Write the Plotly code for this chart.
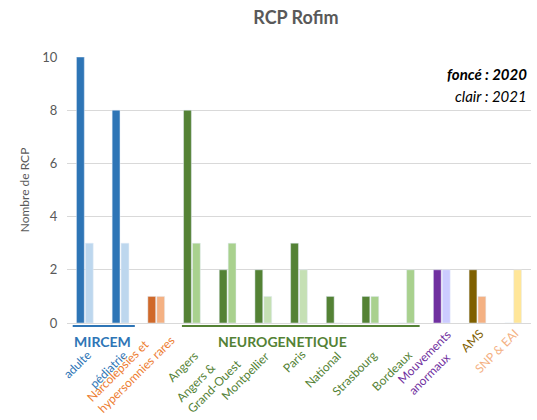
import plotly.graph_objects as go

categories = ["adulte", "pédiatrie", "Narcolepsies et<br>hypersomnies rares", "Angers",
              "Angers &<br>Grand-Ouest", "Montpellier", "Paris", "National", "Strasbourg",
              "Bordeaux", "Mouvements<br>anormaux", "AMS", "SNP & EAI"]
groups = ["MIRCEM", "MIRCEM", None, "NEUROGENETIQUE", "NEUROGENETIQUE", "NEUROGENETIQUE",
          "NEUROGENETIQUE", "NEUROGENETIQUE", "NEUROGENETIQUE", "NEUROGENETIQUE", None, None, None]
values_2020 = [10, 8, 1, 8, 2, 2, 3, 1, 1, 0, 2, 2, 0]
values_2021 = [3, 3, 1, 3, 3, 1, 2, 0, 1, 2, 2, 1, 2]
dark_colors = ["#2E75B6", "#2E75B6", "#D0692A", "#548235", "#548235", "#548235", "#548235",
               "#548235", "#548235", "#548235", "#7030A0", "#7F6000", "#FFD966"]
light_colors = ["#BDD7EE", "#BDD7EE", "#F4B183", "#A9D18E", "#A9D18E", "#C5E0B4", "#C5E0B4",
                "#A9D18E", "#A9D18E", "#A9D18E", "#CCCCFF", "#F4B183", "#FFE699"]
label_colors = ["#2E75B6", "#2E75B6", "#ED7D31", "#548235", "#548235", "#548235", "#548235",
                "#548235", "#548235", "#548235", "#7030A0", "#7F6000", "#F4B183"]

# layout tweaks (pixel shifts) for the rotated multi-line labels
multi_shift = {2: (25, 4), 4: (20, -19), 10: (26, -1)}

x = list(range(len(categories)))

fig = go.Figure()
fig.add_trace(go.Bar(x=x, y=values_2020, marker_color=dark_colors, name="2020"))
fig.add_trace(go.Bar(x=x, y=values_2021, marker_color=light_colors, name="2021"))

fig.update_layout(
    width=537, height=420,
    margin=dict(l=67, r=6, t=57, b=97, autoexpand=False),
    barmode="group", bargap=0.5, bargroupgap=0.12,
    showlegend=False,
    plot_bgcolor="white", paper_bgcolor="white",
    font=dict(family="Lato, Open Sans, sans-serif", color="#595959"),
    title=dict(text="<b>RCP Rofim</b>", x=0.551, xanchor="center", y=0.957, yanchor="middle",
               font=dict(size=18, color="#595959")),
)
fig.update_xaxes(tickmode="array", tickvals=x, showticklabels=False,
                 range=[-0.5, 12.5], showline=True, linecolor="#D9D9D9", automargin=False)
fig.update_yaxes(range=[0, 10], dtick=2, showgrid=True, gridcolor="#D9D9D9", zeroline=False,
                 ticks="outside", ticklen=6, tickcolor="rgba(0,0,0,0)",
                 title=dict(text="Nombre de RCP", font=dict(size=12, color="#595959"), standoff=10),
                 tickfont=dict(size=13, color="#595959"), automargin=False)

# category labels (rotated), pushed below the group headings when grouped
for i, (lab, col, grp) in enumerate(zip(categories, label_colors, groups)):
    if i in multi_shift:
        xs, ys = multi_shift[i]
    else:
        xs, ys = (12, -22) if grp else (12, 0)
    fig.add_annotation(text=lab, xref="x", yref="paper", x=i, y=0,
                       xanchor="right", yanchor="top", textangle=-45, align="left",
                       xshift=xs, yshift=ys,
                       showarrow=False, font=dict(size=12, color=col))

# group underlines and labels
fig.add_shape(type="line", xref="x", yref="paper", x0=-0.34, x1=1.4, y0=-0.011, y1=-0.011,
              line=dict(color="#2E75B6", width=2))
fig.add_shape(type="line", xref="x", yref="paper", x0=2.72, x1=9.38, y0=-0.011, y1=-0.011,
              line=dict(color="#548235", width=2))
fig.add_annotation(text="<b>MIRCEM</b>", xref="x", yref="paper", x=0.5, y=-0.03, yanchor="top",
                   showarrow=False, font=dict(size=14, color="#2E75B6"))
fig.add_annotation(text="<b>NEUROGENETIQUE</b>", xref="x", yref="paper", x=5.55, y=-0.03, yanchor="top",
                   showarrow=False, font=dict(size=14, color="#548235"))
fig.add_annotation(text="<b><i>foncé : 2020</i></b>", xref="paper", yref="paper", x=0.995, y=0.936,
                   xanchor="right", yanchor="middle", showarrow=False, font=dict(size=15, color="black"))
fig.add_annotation(text="<i>clair : 2021</i>", xref="paper", yref="paper", x=0.995, y=0.853,
                   xanchor="right", yanchor="middle", showarrow=False, font=dict(size=15, color="black"))

fig.write_html("out.html", config={"displayModeBar": False},
               post_script="document.body.style.margin='0';")
